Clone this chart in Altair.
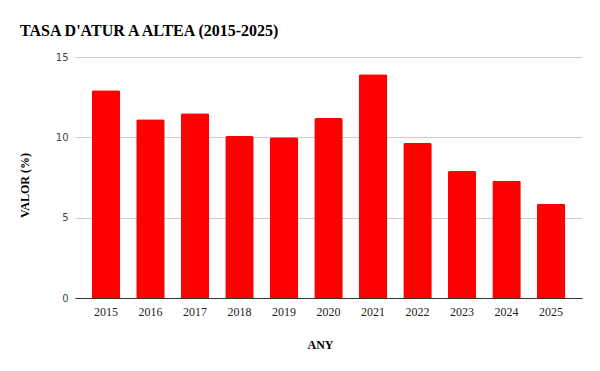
import altair as alt
import pandas as pd

years = ["2015", "2016", "2017", "2018", "2019", "2020", "2021", "2022", "2023", "2024", "2025"]
values = [12.93, 11.13, 11.5, 10.08, 10.0, 11.2, 13.93, 9.65, 7.9, 7.29, 5.86]

df = pd.DataFrame({"ANY": years, "VALOR": values})

FONT = "Liberation Serif"

chart = alt.Chart(df).mark_bar(
    color="#ff0000", cornerRadiusTopLeft=2, cornerRadiusTopRight=2
).encode(
    x=alt.X("ANY:N", title="ANY",
            scale=alt.Scale(paddingInner=0.36, paddingOuter=0.375),
            axis=alt.Axis(labelAngle=0, ticks=False, domainColor="#333333",
                          labelPadding=8, titlePadding=22, labelFontSize=12,
                          labelFont=FONT, titleX=245,
                          titleFontSize=12, titleFontWeight="bold", grid=False)),
    y=alt.Y("VALOR:Q", title="VALOR (%)",
            scale=alt.Scale(domain=[0, 15]),
            axis=alt.Axis(values=[0, 5, 10, 15], ticks=False, domain=False,
                          gridColor="#cccccc", labelPadding=7, labelFontSize=10,
                          labelFont="DejaVu Sans", labelColor="#444444",
                          titleY=128, titleFontSize=12, titleFontWeight="bold",
                          titlePadding=24)),
).properties(
    width=507,
    height=241,
    title=alt.TitleParams("TASA D'ATUR A ALTEA (2015-2025)", anchor="start",
                          frame="group", dx=-55, fontSize=16, fontWeight="bold",
                          font=FONT, color="#000000", offset=13),
    autosize=alt.AutoSizeParams(type="none"),
    padding={"left": 67, "top": 49, "right": 10, "bottom": 60},
).configure_axis(
    titleFont=FONT, labelColor="#222222", titleColor="#000000"
).configure_view(stroke=None)

chart.save("out.html", embed_options={"renderer": "svg", "actions": False})
